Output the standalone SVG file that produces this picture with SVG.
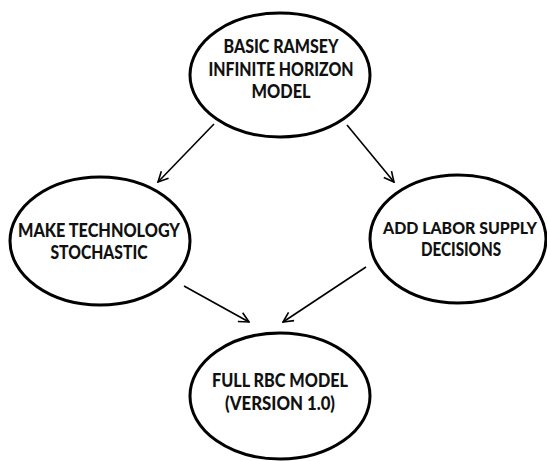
<svg xmlns="http://www.w3.org/2000/svg" width="547" height="461" viewBox="0 0 547 461">
<style>
.node ellipse{fill:#fff;stroke:#000;stroke-width:3}
.node text{font-family:Lato,"Open Sans","Liberation Sans",sans-serif;font-weight:900;font-size:18px;fill:#111;text-anchor:middle}
.node text.sm{font-size:16.5px}
.edge{stroke:#000;stroke-width:1.6;fill:none;marker-end:url(#arr)}
</style>
<defs>
<marker id="arr" viewBox="0 0 12 12" refX="11" refY="6" markerWidth="12" markerHeight="12" markerUnits="userSpaceOnUse" orient="auto">
<path d="M1,1 L11,6 L1,11" fill="none" stroke="#000" stroke-width="1.6"/>
</marker>
</defs>
<rect width="547" height="461" fill="#fff"/>
<g id="connectors">
<line class="edge" x1="214" y1="124" x2="158" y2="182"/>
<line class="edge" x1="347" y1="125" x2="394" y2="182"/>
<line class="edge" x1="184" y1="286" x2="249" y2="322"/>
<line class="edge" x1="366" y1="267" x2="283" y2="322"/>
</g>
<g id="node-ramsey" class="node">
<ellipse cx="280" cy="75" rx="90" ry="62"/>
<text x="281" y="53" textLength="115" lengthAdjust="spacingAndGlyphs">BASIC RAMSEY</text>
<text x="281" y="76" textLength="145" lengthAdjust="spacingAndGlyphs">INFINITE HORIZON</text>
<text x="281" y="98" textLength="59" lengthAdjust="spacingAndGlyphs">MODEL</text>
</g>
<g id="node-technology" class="node">
<ellipse cx="100" cy="241" rx="90" ry="64"/>
<text x="99" y="237" textLength="162" lengthAdjust="spacingAndGlyphs">MAKE TECHNOLOGY</text>
<text x="99" y="259" textLength="97" lengthAdjust="spacingAndGlyphs">STOCHASTIC</text>
</g>
<g id="node-labor" class="node">
<ellipse cx="458" cy="239" rx="88" ry="64"/>
<text class="sm" x="460" y="234" textLength="154" lengthAdjust="spacingAndGlyphs">ADD LABOR SUPPLY</text>
<text x="461" y="256" textLength="80" lengthAdjust="spacingAndGlyphs">DECISIONS</text>
</g>
<g id="node-rbc" class="node">
<ellipse cx="280" cy="396" rx="90" ry="63"/>
<text x="280" y="387" textLength="136" lengthAdjust="spacingAndGlyphs">FULL RBC MODEL</text>
<text x="280" y="410" textLength="110" lengthAdjust="spacingAndGlyphs">(VERSION 1.0)</text>
</g>
</svg>
